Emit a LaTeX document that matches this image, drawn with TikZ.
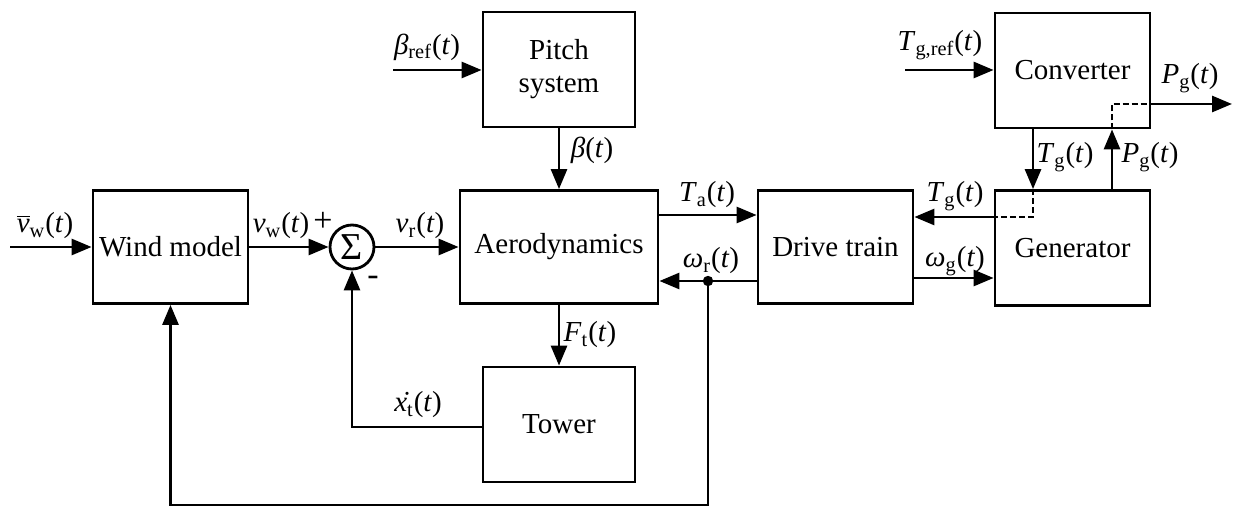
\documentclass[tikz,border=0pt]{standalone}
\usepackage{fontspec}
\setmainfont{Liberation Serif}
\usetikzlibrary{arrows.meta}
\tikzset{
  blk/.style={draw, line width=1.4pt, inner sep=0pt, font=\fontsize{14.5}{16.5}\selectfont},
  arr/.style={line width=1.4pt, -{Triangle[length=10pt,width=8pt]}},
  dsh/.style={line width=1.4pt, dash pattern=on 3pt off 1.5pt},
  lbl/.style={inner sep=0pt, font=\fontsize{14.5}{16}\selectfont},
}
\newcommand{\tv}{\textit}
\begin{document}
\begin{tikzpicture}[x=0.5pt,y=-0.5pt]
\useasboundingbox (0,0) rectangle (1235,513);
% blocks
\node[blk, minimum width=77.5pt, minimum height=56.5pt] (wind) at (170.5,247) {Wind model};
\node[draw, line width=1.4pt, circle, minimum size=22pt, inner sep=0pt, font=\fontsize{19}{20}\selectfont] (sum) at (352,247) {Σ};
\node[blk, minimum width=99pt, minimum height=56.5pt] (aero) at (559,247) {Aerodynamics};
\node[blk, minimum width=76pt, minimum height=57.5pt, align=center] (pitch) at (559,69.5) {Pitch\\system};
\node[blk, minimum width=76pt, minimum height=57.5pt] (tower) at (559,424.5) {Tower};
\node[blk, minimum width=77.5pt, minimum height=56.5pt] (drive) at (835.5,247) {Drive train};
\node[blk, minimum width=77.5pt, minimum height=57.5pt] (gen) at (1072.5,248) {Generator};
\node[blk, minimum width=77.5pt, minimum height=57.5pt] (conv) at (1072.5,70.5) {Converter};
% coordinates
\coordinate (vin) at (10,247);
\coordinate (bref) at (393,70);
\coordinate (tgref) at (905,70);
\coordinate (ta) at (0,215);
\coordinate (wr) at (0,281);
\coordinate (wg) at (0,278);
\coordinate (dot) at (708,281);
\coordinate (bot) at (708,505);
\coordinate (tgx) at (1033,0);
\coordinate (tgy) at (0,217);
\coordinate (tgc) at (1033,217);
\coordinate (pgx) at (1112,0);
\coordinate (pgy) at (0,104);
\coordinate (pgc) at (1112,104);
\coordinate (pgout) at (1232,104);
% connectors
\draw[arr] (vin) -- (wind.west);
\draw[arr] (wind.east) -- (sum.west);
\draw[arr] (sum.east) -- (aero.west);
\draw[arr] (bref) -- (bref -| pitch.west);
\draw[arr] (pitch.south) -- (aero.north);
\draw[arr] (aero.south) -- (tower.north);
\draw[arr] (tower.west |- 0,427) -| (sum.south);
\draw[arr] (aero.east |- ta) -- (drive.west |- ta);
\draw[arr] (drive.west |- wr) -- (aero.east |- wr);
\fill (dot) circle (2.6pt);
\draw[arr] (dot) -- (bot) -| (wind.south);
\draw[arr] (drive.east |- wg) -- (gen.west |- wg);
\draw[arr] (tgref) -- (conv.west |- tgref);
\draw[arr] (conv.south -| tgx) -- (gen.north -| tgx);
\draw[dsh] (gen.north -| tgx) -- (tgc) -- (gen.west |- tgy);
\draw[arr] (gen.west |- tgy) -- (drive.east |- tgy);
\draw[arr] (gen.north -| pgx) -- (conv.south -| pgx);
\draw[dsh] (conv.south -| pgx) -- (pgc) -- (conv.east |- pgy);
\draw[arr] (conv.east |- pgy) -- (pgout);
% labels
\node[lbl] (l1) at (45,226) {$\overline{\mbox{\tv{v}}}$\textsubscript{w}(\tv{t})};
\node[lbl] (l2) at (281,226) {\tv{v}\textsubscript{w}(\tv{t})};
\node[lbl, font=\fontsize{17}{18}\selectfont] (lp) at (323,222) {+};
\node[lbl, font=\fontsize{17}{18}\selectfont] (lm) at (373,281) {-};
\node[lbl] (l3) at (420,226) {\tv{v}\textsubscript{r}(\tv{t})};
\node[lbl] (l4) at (427,47) {\tv{β}\textsubscript{ref}(\tv{t})};
\node[lbl] (l5) at (592,150) {\tv{β}(\tv{t})};
\node[lbl] (l6) at (707,195) {\tv{T}\textsubscript{a}(\tv{t})};
\node[lbl] (l7) at (711,261) {\tv{ω}\textsubscript{r}(\tv{t})};
\node[lbl] (l8) at (590,335) {\tv{F}\textsubscript{t}(\tv{t})};
\node[lbl] (l9) at (418,405) {\.{\tv{x}}\textsubscript{t}(\tv{t})};
\node[lbl] (l10) at (955,196) {\tv{T}\textsubscript{g}(\tv{t})};
\node[lbl] (l11) at (955,261) {\tv{ω}\textsubscript{g}(\tv{t})};
\node[lbl] (l12) at (1065,157) {\tv{T}\textsubscript{g}(\tv{t})};
\node[lbl] (l13) at (1150,157) {\tv{P}\textsubscript{g}(\tv{t})};
\node[lbl] (l14) at (940,45) {\tv{T}\textsubscript{g,ref}(\tv{t})};
\node[lbl] (l15) at (1190,78) {\tv{P}\textsubscript{g}(\tv{t})};
\end{tikzpicture}
\end{document}
